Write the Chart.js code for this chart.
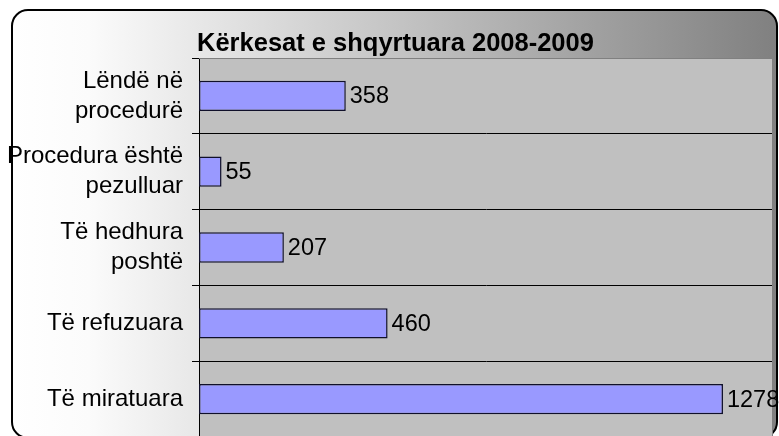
<!DOCTYPE html>
<html>
<head>
<meta charset="utf-8">
<script src="https://cdn.jsdelivr.net/npm/chart.js@4"></script>
<style>
  html, body { margin: 0; padding: 0; background: #fff; overflow: hidden; }
</style>
</head>
<body>
<canvas id="chart" width="779" height="446"></canvas>
<script>
// Kërkesat e shqyrtuara — horizontal bars, Excel-style frame
const chartTitle = 'Kërkesat e shqyrtuara 2008-2009'
const categories = [
  ['Lëndë në', 'procedurë'],
  ['Procedura është', 'pezulluar'],
  ['Të hedhura', 'poshtë'],
  ['Të refuzuara'],
  ['Të miratuara']
]
const values = [358, 55, 207, 460, 1278]
const xMin = 0
const xMax = 1400

const FONT = '"Liberation Sans", Arial, sans-serif'

// gradient backdrop + rounded border + grey plot area
const backdrop = {
  id: 'backdrop',
  beforeDraw (chart) {
    const { ctx, chartArea: a } = chart
    ctx.save()
    const g = ctx.createLinearGradient(12, 0, 777, 0)
    g.addColorStop(0, '#ffffff')
    g.addColorStop(0.1, '#fbfbfb')
    g.addColorStop(1, '#808080')
    ctx.beginPath()
    ctx.roundRect(12, 10, 765, 428, 16)
    ctx.fillStyle = g
    ctx.fill()
    ctx.lineWidth = 2
    ctx.strokeStyle = '#000'
    ctx.stroke()
    ctx.fillStyle = '#c0c0c0'
    ctx.fillRect(a.left, a.top, a.right - a.left, a.bottom - a.top)
    ctx.restore()
  },
  beforeDatasetsDraw (chart) {
    const { ctx, chartArea: a } = chart
    ctx.save()
    ctx.strokeStyle = '#808080'
    ctx.lineWidth = 1
    ctx.beginPath()
    ctx.moveTo(a.left, a.top + 0.5)
    ctx.lineTo(a.right - 0.5, a.top + 0.5)
    ctx.lineTo(a.right - 0.5, a.bottom)
    ctx.stroke()
    ctx.restore()
  }
}

// value labels at bar ends + title over the plot
const labels = {
  id: 'labels',
  afterDatasetsDraw (chart) {
    const { ctx } = chart
    const meta = chart.getDatasetMeta(0)
    ctx.save()
    ctx.font = '23.5px ' + FONT
    ctx.fillStyle = '#000'
    ctx.textAlign = 'left'
    ctx.textBaseline = 'middle'
    meta.data.forEach((bar, i) => {
      ctx.fillText(String(values[i]), bar.x + 4, bar.y + 1)
    })
    ctx.restore()
  },
  afterDraw (chart) {
    const { ctx, chartArea: a } = chart
    ctx.save()
    ctx.font = 'bold 25.5px ' + FONT
    ctx.fillStyle = '#000'
    ctx.textAlign = 'left'
    ctx.textBaseline = 'alphabetic'
    ctx.fillText(chartTitle, a.left - 2, 51)
    ctx.restore()
  }
}

new Chart(document.getElementById('chart'), {
  type: 'bar',
  data: {
    labels: categories,
    datasets: [{
      data: values,
      backgroundColor: '#9999ff',
      borderColor: '#10102a',
      borderWidth: 1.5,
      borderSkipped: false,
      categoryPercentage: 1,
      barPercentage: 0.4
    }]
  },
  options: {
    indexAxis: 'y',
    responsive: false,
    animation: false,
    layout: { padding: { left: 0, top: 58, right: 6, bottom: 9 } },
    scales: {
      x: { display: false, min: xMin, max: xMax },
      y: {
        grid: {
          offset: true,
          color: c => c.index === 0 ? '#808080' : '#000',
          lineWidth: 1,
          tickLength: 7,
          tickColor: '#000'
        },
        border: { color: '#000', width: 1 },
        ticks: {
          color: '#000',
          padding: 9,
          autoSkip: false,
          font: { family: FONT, size: 24, lineHeight: 1.25 }
        },
        afterFit (scale) {
          scale.width = 199
          scale.paddingTop = 0
          scale.paddingBottom = 0
        }
      }
    },
    plugins: {
      legend: { display: false },
      tooltip: { enabled: false },
      title: { display: false }
    }
  },
  plugins: [backdrop, labels]
})
</script>
</body>
</html>
